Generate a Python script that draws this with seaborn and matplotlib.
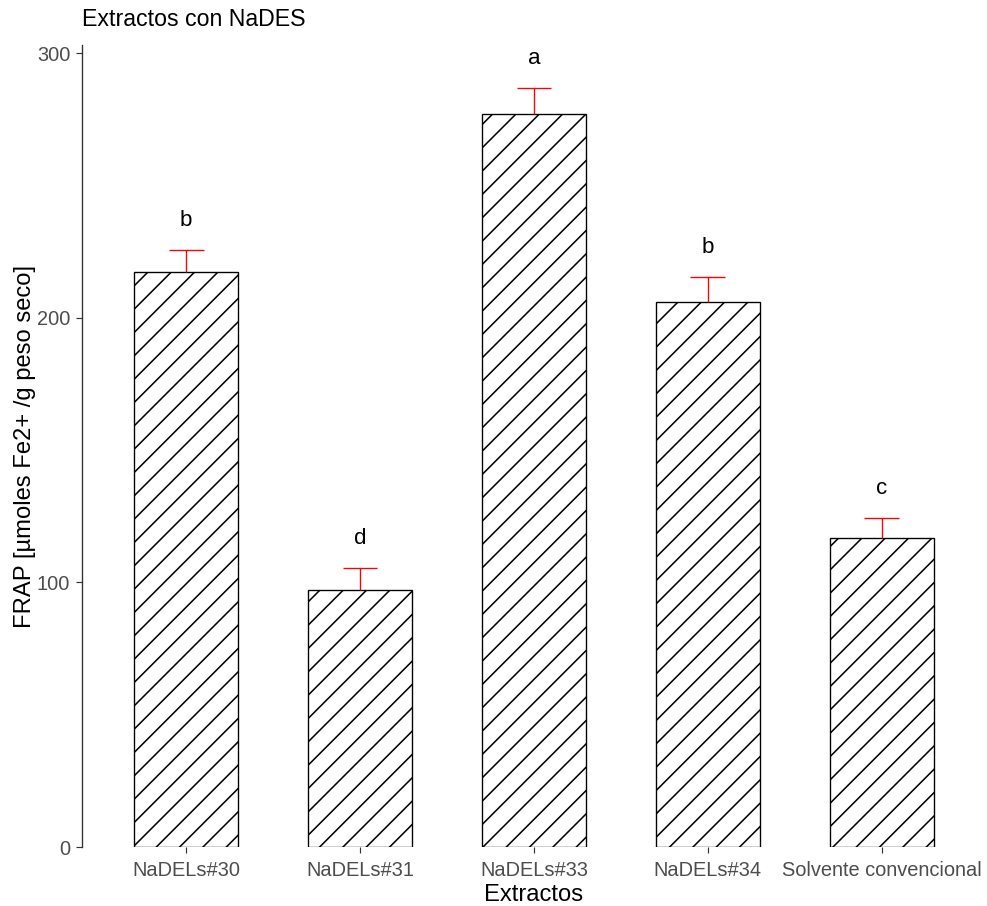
import matplotlib
matplotlib.use("Agg")
import matplotlib.pyplot as plt
import seaborn as sns
import pandas as pd

extractos = ["NaDELs#30", "NaDELs#31", "NaDELs#33", "NaDELs#34", "Solvente convencional"]
frap_media = [217.2, 97.1, 276.9, 205.9, 116.7]
frap_de = [8.3, 8.3, 9.8, 9.4, 7.6]
letras = ["b", "d", "a", "b", "c"]

df = pd.DataFrame({"Extracto": extractos, "FRAP": frap_media, "DE": frap_de, "Letra": letras})

sns.set_theme(style="white")
plt.rcParams["font.family"] = ["Liberation Sans", "DejaVu Sans"]
plt.rcParams["hatch.linewidth"] = 0.8
plt.rcParams["hatch.color"] = "black"

DPI = 140
fig = plt.figure(figsize=(987 / DPI, 906 / DPI), dpi=DPI)
ax = fig.add_axes([0.083, 0.065, 0.916, 0.885])

sns.barplot(data=df, x="Extracto", y="FRAP", color="white", edgecolor="black",
            linewidth=0.7, hatch="//", width=0.6, errorbar=None, saturation=1, ax=ax)

# upper error bars (mean -> mean + sd) with caps
for i, (m, s) in enumerate(zip(df["FRAP"], df["DE"])):
    ax.vlines(i, m, m + s, color="red", linewidth=0.7, zorder=3)
    ax.hlines(m + s, i - 0.1, i + 0.1, color="red", linewidth=0.7, zorder=3)
    ax.annotate(df["Letra"][i], xy=(i, m + s), xytext=(0, 10), textcoords="offset points",
                ha="center", va="bottom", fontsize=11.5, color="black")

ax.set_xlim(-0.6, 4.6)
ax.set_ylim(0, 303)
ax.set_yticks([0, 100, 200, 300])

for side in ["top", "right", "bottom"]:
    ax.spines[side].set_visible(False)
ax.spines["left"].set_color("#333333")
ax.spines["left"].set_linewidth(0.7)

ax.tick_params(axis="both", which="both", length=3, width=0.6, color="#333333",
               labelsize=10.3, labelcolor="#4D4D4D", bottom=True, left=True, pad=3)
ax.tick_params(axis="x", pad=4)

ax.set_xlabel("Extractos", fontsize=12.2, color="black", labelpad=2)
ax.set_ylabel("FRAP [µmoles Fe2+ /g peso seco]", fontsize=12.2, color="black", labelpad=0.5)
ax.set_title("Extractos con NaDES", loc="left", fontsize=11.9, color="black", pad=10)

fig.savefig("out.png", dpi=DPI)
